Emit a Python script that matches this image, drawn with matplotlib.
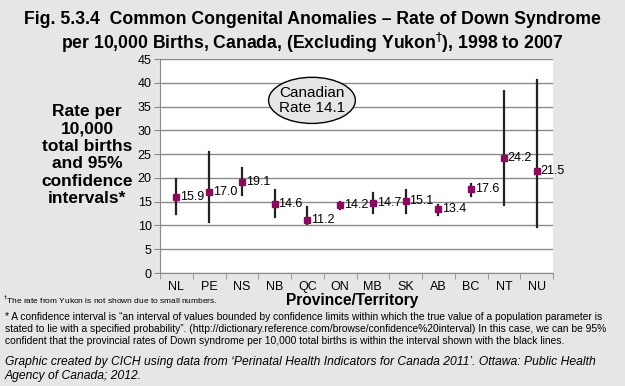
import numpy as np
import matplotlib.pyplot as plt
plt.switch_backend('agg')
from matplotlib.patches import Ellipse

provinces = ["NL", "PE", "NS", "NB", "QC", "ON", "MB", "SK", "AB", "BC", "NT", "NU"]
rates = [15.9, 17.0, 19.1, 14.6, 11.2, 14.2, 14.7, 15.1, 13.4, 17.6, 24.2, 21.5]
ci_low = [12.4, 10.7, 16.3, 11.7, 10.4, 13.4, 12.6, 12.6, 12.1, 16.1, 14.2, 9.7]
ci_high = [19.8, 25.4, 22.1, 17.5, 13.9, 14.9, 16.8, 17.4, 14.4, 18.8, 38.2, 40.6]
canada_rate = 14.1

plt.rcParams['font.family'] = ['Liberation Sans', 'DejaVu Sans']
bg = "#e6e6e6"
purple = "#8c0a5e"

fig = plt.figure(figsize=(6.25, 3.86), dpi=100, facecolor=bg)
ax = fig.add_axes([160/625, 1-273/386, 393/625, 214/386])
ax.set_facecolor("white")

x = np.arange(len(provinces))
for i in x:
    ax.plot([i, i], [ci_low[i], ci_high[i]], color="#222222", lw=1.6, zorder=3)
ax.plot(x, rates, 's', color=purple, ms=5, zorder=4)
for i in x:
    ax.text(i + 0.12, rates[i], "%.1f" % rates[i], fontsize=9, va="center", ha="left", zorder=5)

ax.set_xlim(-0.5, len(provinces) - 0.5)
ax.set_ylim(0, 45)
ax.set_yticks(range(0, 46, 5))
ax.yaxis.grid(True, color="#8a8a8a", lw=1)
ax.set_axisbelow(True)
ax.set_xticks(x)
ax.set_xticklabels(provinces, fontsize=9)
ax.set_xticks(np.arange(-0.5, len(provinces), 1), minor=True)
ax.tick_params(axis="x", which="major", length=0, pad=6)
ax.tick_params(axis="x", which="minor", length=4, color="#8a8a8a")
ax.tick_params(axis="y", length=4, color="#8a8a8a", labelsize=9, pad=2)
for s in ["top", "right"]:
    ax.spines[s].set_visible(False)
for s in ["left", "bottom"]:
    ax.spines[s].set_color("#8a8a8a")

ell = Ellipse((4.14, 36.3), 2.65, 9.7, facecolor=bg, edgecolor="black", lw=1, zorder=5)
ax.add_patch(ell)
ax.text(4.14, 36.3, "Canadian\nRate %.1f" % canada_rate, ha="center", va="center",
        fontsize=11, zorder=6, linespacing=1.05)

fig.text(0.5, 1-33/386, "Fig. 5.3.4  Common Congenital Anomalies \u2013 Rate of Down Syndrome\n"
         "per 10,000 Births, Canada, (Excluding Yukon$^{\\dagger}$), 1998 to 2007",
         ha="center", va="center", fontsize=12.7, fontweight="bold", linespacing=1.2)

fig.text(87/625, 1-155/386, "Rate per\n10,000\ntotal births\nand 95%\nconfidence\nintervals*",
         ha="center", va="center", fontsize=12.5, fontweight="bold", linespacing=1.2)

fig.text(352/625, 1-301/386, "Province/Territory", ha="center", va="center",
         fontsize=11.2, fontweight="bold")
fig.text(3/625, 1-300/386, "$^{\\dagger}$The rate from Yukon is not shown due to small numbers.",
         ha="left", va="center", fontsize=6)
fig.text(5/625, 1-329/386,
         "* A confidence interval is \u201can interval of values bounded by confidence limits within which the true value of a population parameter is\n"
         "stated to lie with a specified probability\u201d. (http://dictionary.reference.com/browse/confidence%20interval) In this case, we can be 95%\n"
         "confident that the provincial rates of Down syndrome per 10,000 total births is within the interval shown with the black lines.",
         ha="left", va="center", fontsize=7.4, linespacing=1.25)
fig.text(5/625, 1-369/386,
         "Graphic created by CICH using data from \u2018Perinatal Health Indicators for Canada 2011\u2019. Ottawa: Public Health\n"
         "Agency of Canada; 2012.",
         ha="left", va="center", fontsize=8.75, style="italic", linespacing=1.25)

fig.savefig("out.png", dpi=100, facecolor=bg)
